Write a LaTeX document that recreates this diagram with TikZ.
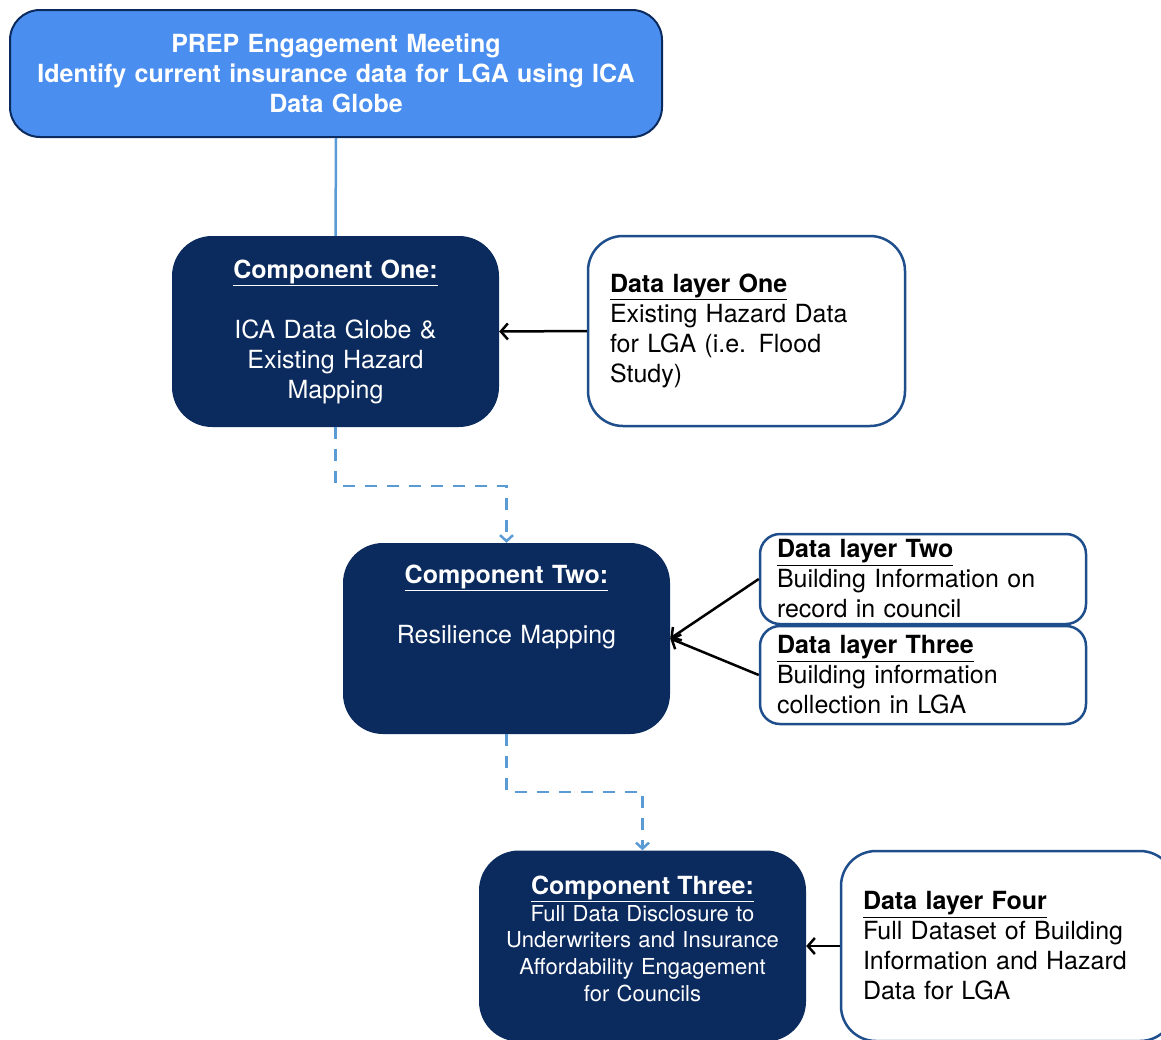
\documentclass[tikz,border=0pt]{standalone}
\usepackage{fontspec}
\setmainfont{TeX Gyre Heros}
\usetikzlibrary{arrows.meta,positioning}
\definecolor{prepblue}{HTML}{4A8EF0}
\definecolor{compnavy}{HTML}{0B2A5E}
\definecolor{layerline}{HTML}{1F4E8C}
\definecolor{linkblue}{HTML}{5B9BD5}

\begin{document}
\begin{tikzpicture}[x=1pt,y=-1pt,
    prepbox/.style={draw=compnavy, fill=prepblue, line width=2pt, rounded corners=30pt,
        text=white, font=\fontsize{25}{30}\selectfont\bfseries, align=center,
        minimum width=652pt, minimum height=127pt, text width=640pt, inner sep=0pt},
    compbox/.style={fill=compnavy, rounded corners=40pt, text=white,
        font=\fontsize{25}{30}\selectfont, align=center,
        minimum width=327pt, minimum height=191pt, text width=315pt, inner sep=0pt},
    layerbox/.style={draw=layerline, fill=white, line width=2.5pt, rounded corners=#1,
        font=\fontsize{25}{30}\selectfont, align=left, inner sep=0pt},
    layerbox/.default=35pt,
    feed/.style={draw=black, line width=2.5pt, -{Straight Barb[length=7pt,width=16pt,line width=2.5pt]}},
    link/.style={draw=linkblue, line width=2.5pt},
    flowlink/.style={link, dash pattern=on 12pt off 10pt, -{Straight Barb[length=6pt,width=13pt,line width=2.5pt]}}
  ]
  \clip (0,0) rectangle (1161,1039);

  % top meeting
  \node[prepbox] (prep) at (336,73.5)
    {PREP Engagement Meeting\\Identify current insurance data for LGA using ICA\\Data Globe};

  % components
  \node[compbox] (comp1) at (335.5,331.5)
    {\underline{\textbf{Component One:}}\\ \strut\\ICA Data Globe \&\\Existing Hazard\\Mapping};
  \node[compbox] (comp2) at (506.5,638.5)
    {\underline{\textbf{Component Two:}}\\ \strut\\Resilience Mapping\\ \strut\\ \strut};
  \node[compbox, font=\fontsize{22}{26.6}\selectfont] (comp3) at (642.5,946)
    {\underline{\textbf{\fontsize{25}{26.6}\selectfont Component Three:}}\\Full Data Disclosure to\\Underwriters and Insurance\\Affordability Engagement\\for Councils\\[-12pt]\mbox{}};

  % data layers
  \node[layerbox, minimum width=317pt, minimum height=190pt, text width=273pt] (layer1) at (746.5,331)
    {\underline{\textbf{Data layer One}}\\Existing Hazard Data\\for LGA (i.e. Flood\\Study)};
  \node[layerbox=20pt, minimum width=326pt, minimum height=90pt, text width=292pt] (layer2) at (923,579)
    {\underline{\textbf{Data layer Two}}\\Building Information on\\record in council};
  \node[layerbox=20pt, minimum width=326pt, minimum height=98pt, text width=292pt] (layer3) at (923,675)
    {\underline{\textbf{Data layer Three}}\\Building information\\collection in LGA};
  \node[layerbox, minimum width=334pt, minimum height=190pt, text width=290pt] (layer4) at (1008,946)
    {\underline{\textbf{Data layer Four}}\\Full Dataset of Building\\Information and Hazard\\Data for LGA};

  % connectors
  \draw[link] (prep.south) -- (comp1.north);
  \draw[flowlink] (comp1.south) -- ++(0,59) -| (comp2.north);
  \draw[flowlink] (comp2.south) -- ++(0,58) -| (comp3.north);
  \draw[feed] (layer1.west) -- (comp1.east);
  \draw[feed] (layer2.west) -- (comp2.east);
  \draw[feed] (layer3.west) -- (comp2.east);
  \draw[feed] (layer4.west) -- (comp3.east);
\end{tikzpicture}
\end{document}
